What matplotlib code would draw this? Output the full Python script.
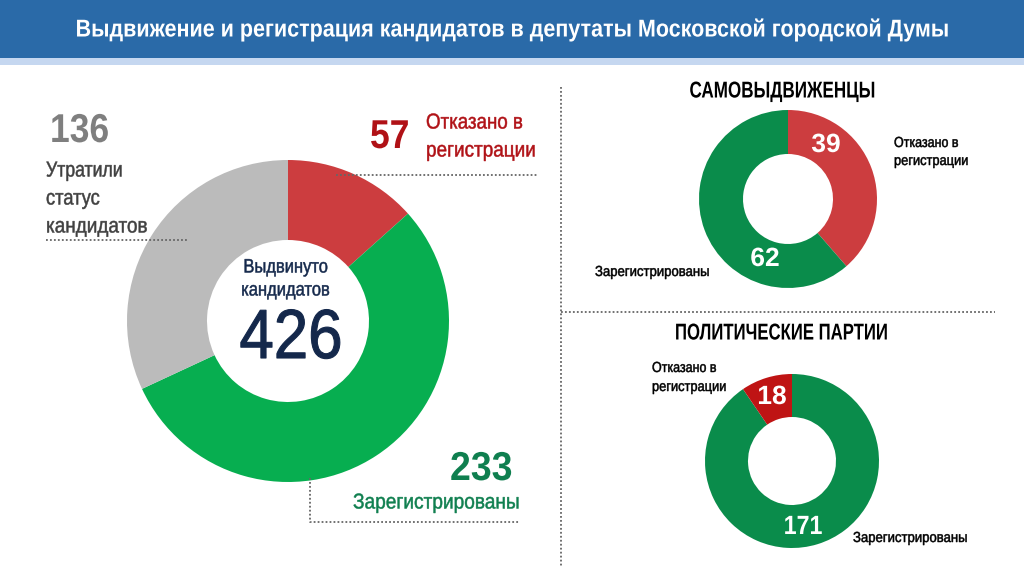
import matplotlib
matplotlib.use("Agg")
import matplotlib.pyplot as plt
from matplotlib.patches import Rectangle
from matplotlib.patheffects import AbstractPathEffect
from matplotlib.transforms import Affine2D

plt.rcParams['font.family'] = ['Liberation Sans', 'DejaVu Sans']

title = "Выдвижение и регистрация кандидатов в депутаты Московской городской Думы"

main_values = [57, 233, 136]
main_colors = ['#CC3D3F', '#07AE50', '#BBBBBB']
self_values = [39, 62]
self_colors = ['#CC3D3F', '#0A8C4B']
party_values = [171, 18]
party_colors = ['#0A8C4B', '#BF1414']
total = 426

fig = plt.figure(figsize=(10.24, 5.76), dpi=100)
ax = fig.add_axes([0, 0, 1, 1])


class Squeeze(AbstractPathEffect):
    # no narrow font is installed, so the glyphs get narrowed around the anchor
    def __init__(self, x, sx, stroke):
        super().__init__()
        self.x = x
        self.sx = sx
        self.stroke = stroke

    def draw_path(self, renderer, gc, tpath, affine, rgbFace=None):
        t = affine + Affine2D().translate(-self.x, 0).scale(self.sx, 1).translate(self.x, 0)
        gc0 = renderer.new_gc()
        gc0.copy_properties(gc)
        gc0.set_linewidth(self.stroke)
        gc0.set_foreground(rgbFace)
        renderer.draw_path(gc0, tpath, t, rgbFace)
        gc0.restore()


def Y(py):
    # positions are measured from the top of the picture
    return 576 - py


def donut(values, colors, cx, cy, r, hole):
    ax.pie(values, colors=colors, center=(cx, Y(cy)), radius=r, startangle=90,
           counterclock=False, wedgeprops=dict(width=r - hole, linewidth=0),
           frame=True)


def dotted(xs, ys, color='#666666'):
    ax.plot(xs, [Y(v) for v in ys], color=color, lw=1.3, ls=(0, (1, 1.2)), zorder=5)


def label(x, y, s, size, color='black', sx=0.87, ha='left', weight='normal', stroke=0.35):
    t = ax.text(x, Y(y), s, fontsize=size, color=color, ha=ha, va='center', weight=weight, zorder=6)
    t.set_path_effects([Squeeze(x, sx, 0 if weight == 'bold' else stroke)])


# header
ax.add_patch(Rectangle((0, Y(58)), 1024, 58, color='#2A6AA8', lw=0))
ax.add_patch(Rectangle((0, Y(65)), 1024, 7, color='#C5D7F0', lw=0))
label(512, 30, title, 17.5, 'white', sx=0.885, ha='center', weight='bold')

donut(main_values, main_colors, 288, 321, 161, 81)
donut(self_values, self_colors, 788, 199, 89, 45)
donut(party_values, party_colors, 792, 461, 87, 44)

# main chart texts
label(286, 268, "Выдвинуто", 14, '#14284B', sx=0.85, ha='center')
label(286, 291, "кандидатов", 14, '#14284B', sx=0.85, ha='center')
label(291, 340, str(total), 50, '#14284B', sx=0.89, ha='center', stroke=0.8)
label(50, 131, str(main_values[2]), 29, '#7F7F7F', sx=0.88, weight='bold')
label(46, 171, "Утратили", 15.5, '#404040', sx=0.82)
label(46, 199, "статус", 15.5, '#404040', sx=0.85)
label(46, 227, "кандидатов", 15.5, '#404040', sx=0.88)
label(370, 137, str(main_values[0]), 29, '#B01116', sx=0.88, weight='bold')
label(426, 123, "Отказано в", 15.5, '#B01116')
label(426, 151, "регистрации", 15.5, '#B01116', sx=0.88)
label(450, 469, str(main_values[1]), 29, '#0F7F4F', sx=0.93, weight='bold')
label(353, 503, "Зарегистрированы", 15.5, '#0F7F4F', sx=0.887)

# small charts
label(782, 91, "САМОВЫДВИЖЕНЦЫ", 16.5, 'black', sx=0.745, ha='center', weight='bold')
label(781, 333, "ПОЛИТИЧЕСКИЕ ПАРТИИ", 16.5, 'black', sx=0.73, ha='center', weight='bold')
label(826, 145, str(self_values[0]), 19, 'white', sx=1, ha='center', weight='bold')
label(765, 259, str(self_values[1]), 19, 'white', sx=1, ha='center', weight='bold')
label(772, 397, str(party_values[1]), 19, 'white', sx=1, ha='center', weight='bold')
label(803, 527, str(party_values[0]), 19, 'white', sx=0.88, ha='center', weight='bold')
label(894, 143, "Отказано в", 10.5, sx=0.855)
label(894, 161, "регистрации", 10.5, sx=0.88)
label(595, 272, "Зарегистрированы", 10.5, sx=0.9)
label(652, 368, "Отказано в", 10.5, sx=0.855)
label(652, 387, "регистрации", 10.5, sx=0.88)
label(853, 538, "Зарегистрированы", 10.5, sx=0.9)

# dotted leader lines and separators
dotted([336, 537], [175, 175])
dotted([46, 188], [240, 240])
dotted([310, 310, 520], [478, 522, 522])
dotted([561, 561], [87, 566])
dotted([561, 995], [312, 312])

ax.set_xlim(0, 1024)
ax.set_ylim(0, 576)
ax.set_aspect('equal')
ax.axis('off')
fig.savefig('out.png', dpi=100, facecolor='white')
